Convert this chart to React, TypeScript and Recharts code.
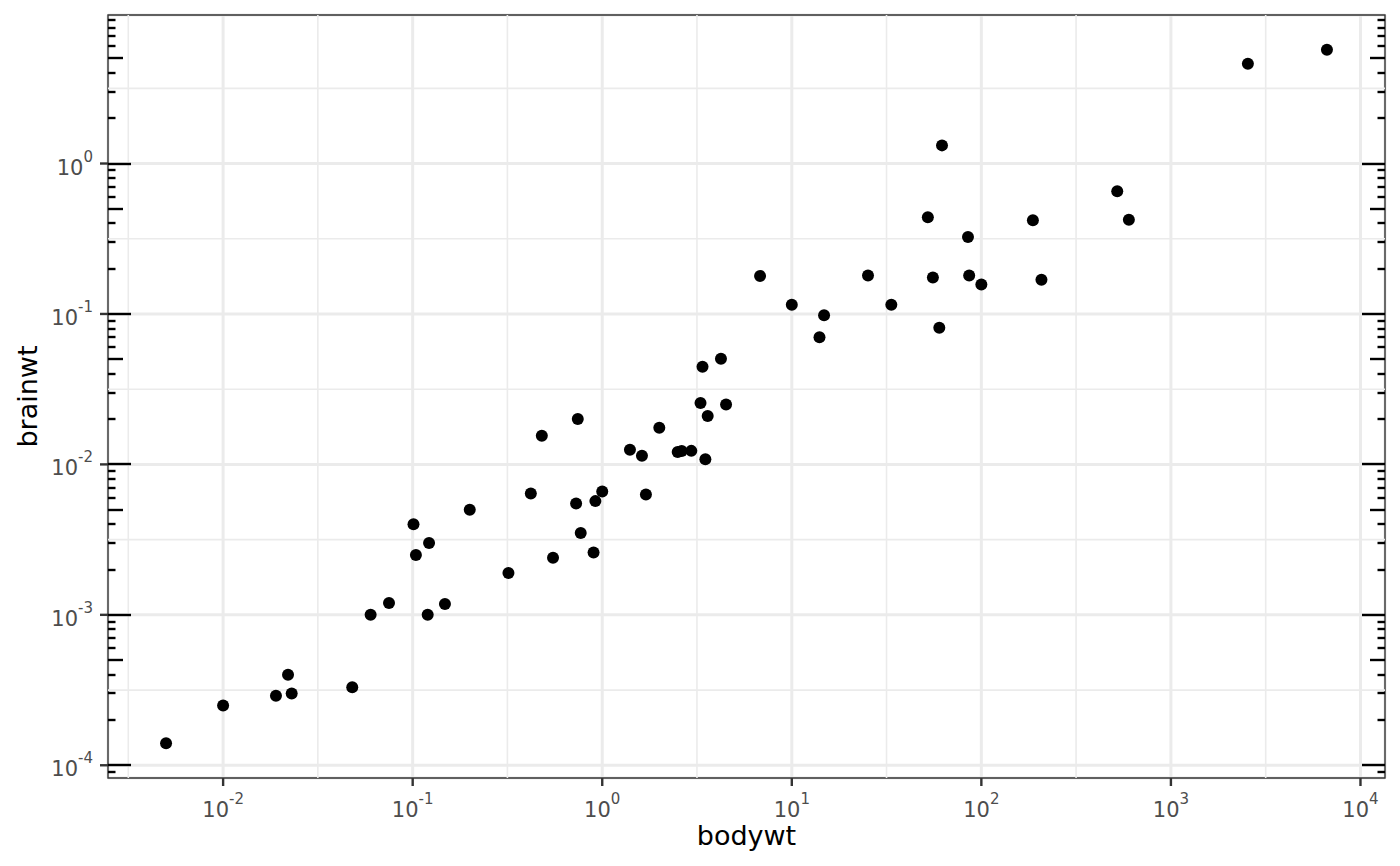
import React from 'react';
import { ScatterChart, Scatter, XAxis, YAxis, CartesianGrid, ReferenceLine, ReferenceArea } from 'recharts';

// msleep: body weight vs brain weight (kg), both on log10 scales
const animals = [
  'Owl monkey', 'Greater short-tailed shrew', 'Cow', 'Dog', 'Roe deer', 'Goat', 'Guinea pig',
  'Chinchilla', 'Star-nosed mole', 'African giant pouched rat', 'Lesser short-tailed shrew',
  'Long-nosed armadillo', 'Tree hyrax', 'North American Opossum', 'Asian elephant', 'Big brown bat',
  'Horse', 'Donkey', 'European hedgehog', 'Patas monkey', 'Domestic cat', 'Galago', 'Gray seal',
  'Gray hyrax', 'Human', 'African elephant', 'Macaque', 'Golden hamster', 'House mouse',
  'Little brown bat', 'Slow loris', 'Rabbit', 'Sheep', 'Chimpanzee', 'Jaguar', 'Baboon',
  'Desert hedgehog', 'Phalanger', 'Giant armadillo', 'Rock hyrax', 'Laboratory rat',
  'Squirrel monkey', 'Eastern american mole', 'Cotton rat', 'Mole rat', 'Arctic ground squirrel',
  'Thirteen-lined ground squirrel', 'Musk shrew', 'Pig', 'Short-nosed echidna', 'Brazilian tapir',
  'Tenrec', 'Tree shrew', 'Genet', 'Arctic fox', 'Red fox',
];
const bodywt = [
  0.48, 0.019, 600, 14, 14.8, 33.5, 0.728,
  0.42, 0.06, 1, 0.005,
  3.5, 2.95, 1.7, 2547, 0.023,
  521, 187, 0.77, 10, 3.3, 0.2, 85,
  2.625, 62, 6654, 6.8, 0.12, 0.022,
  0.01, 1.4, 2.5, 55.5, 52.2, 100, 25.235,
  0.55, 1.62, 60, 3.6, 0.32,
  0.743, 0.075, 0.148, 0.122, 0.92,
  0.101, 0.048, 86.25, 4.5, 207.501,
  0.9, 0.104, 2, 3.38, 4.23,
];
const brainwt = [
  0.0155, 0.00029, 0.423, 0.07, 0.0982, 0.115, 0.0055,
  0.0064, 0.001, 0.0066, 0.00014,
  0.0108, 0.0123, 0.0063, 4.603, 0.0003,
  0.655, 0.419, 0.0035, 0.115, 0.0256, 0.005, 0.325,
  0.01227, 1.32, 5.712, 0.179, 0.001, 0.0004,
  0.00025, 0.0125, 0.0121, 0.175, 0.44, 0.157, 0.18,
  0.0024, 0.0114, 0.081, 0.021, 0.0019,
  0.02, 0.0012, 0.00118, 0.003, 0.0057,
  0.004, 0.00033, 0.18, 0.025, 0.169,
  0.0026, 0.0025, 0.0175, 0.0445, 0.0504,
];

const xBreaks = [0.01, 0.1, 1, 10, 100, 1000, 10000];
const yBreaks = [0.0001, 0.001, 0.01, 0.1, 1];
const xMinorBreaks = [0.00316, 0.0316, 0.316, 3.16, 31.6, 316, 3162];
const yMinorBreaks = [0.000316, 0.00316, 0.0316, 0.316, 3.16];
const xDomain = [0.00247, 13470];
const yDomain = [0.0000823, 9.71];
const logTickDecades = [-5, -4, -3, -2, -1, 0];
const logTickSteps = [1, 2, 3, 4, 5, 6, 7, 8, 9];

const data = animals.map((name, i) => ({ name, bodywt: bodywt[i], brainwt: brainwt[i] }));

const yLogTicks = logTickDecades
  .flatMap((d) => logTickSteps.map((s) => ({ step: s, value: s * Math.pow(10, d) })))
  .filter((t) => t.value >= yDomain[0] && t.value <= yDomain[1]);

const FONT = '"DejaVu Sans", Verdana, sans-serif';
const GRID = '#ebebeb';

const exponent = (v: number) => Math.round(Math.log10(v));

function XTick(props: any) {
  const { x, y, payload } = props;
  return (
    <text x={x} y={y + 29} textAnchor="middle" fill="#4d4d4d" fontSize={21} fontFamily={FONT}>
      10<tspan dy={-13} fontSize={15}>{exponent(payload.value)}</tspan>
    </text>
  );
}

function YTick(props: any) {
  const { x, y, payload } = props;
  return (
    <text x={x - 5} y={y + 11} textAnchor="end" fill="#4d4d4d" fontSize={21} fontFamily={FONT}>
      10<tspan dy={-13} fontSize={15}>{exponent(payload.value)}</tspan>
    </text>
  );
}

function XTitle(props: any) {
  const vb = props.viewBox || { x: 108, y: 778, width: 1277 };
  return (
    <text x={vb.x + vb.width / 2} y={vb.y + 67} textAnchor="middle" fill="#000" fontSize={27} fontFamily={FONT}>
      bodywt
    </text>
  );
}

function YTitle(props: any) {
  const vb = props.viewBox || { x: 0, y: 15, height: 763 };
  const cx = 37;
  const cy = vb.y + vb.height / 2;
  return (
    <text x={cx} y={cy} transform={`rotate(-90 ${cx} ${cy})`} textAnchor="middle" fill="#000" fontSize={27} fontFamily={FONT}>
      brainwt
    </text>
  );
}

const logTickShape = (len: number) => (p: any) => {
  const left = Math.min(p.x1, p.x2);
  const right = Math.max(p.x1, p.x2);
  const y = Math.round(p.y1);
  return (
    <g>
      <line x1={left} x2={left + len} y1={y} y2={y} stroke="#000" strokeWidth={2.4} />
      <line x1={right - len} x2={right} y1={y} y2={y} stroke="#000" strokeWidth={2.4} />
    </g>
  );
};

const Dot = (p: any) => <circle cx={p.cx} cy={p.cy} r={6} fill="#000" />;

export default function App() {
  return (
    <div style={{ position: 'absolute', left: 0, top: 0, background: '#fff' }}>
      <ScatterChart width={1400} height={866} margin={{ top: 15, right: 15, bottom: 0, left: 0 }}>
        <CartesianGrid stroke={GRID} strokeWidth={3} />
        {xMinorBreaks.map((v) => (
          <ReferenceLine key={`xm-${v}`} x={v} stroke={GRID} strokeWidth={1.6} />
        ))}
        {yMinorBreaks.map((v) => (
          <ReferenceLine key={`ym-${v}`} y={v} stroke={GRID} strokeWidth={1.6} />
        ))}
        <XAxis
          dataKey="bodywt"
          type="number"
          scale="log"
          domain={xDomain}
          allowDataOverflow
          ticks={xBreaks}
          interval={0}
          height={88}
          axisLine={false}
          tickSize={8}
          tickLine={{ stroke: '#333', strokeWidth: 2.4 }}
          tick={<XTick />}
          label={<XTitle />}
        />
        <YAxis
          dataKey="brainwt"
          type="number"
          scale="log"
          domain={yDomain}
          allowDataOverflow
          ticks={yBreaks}
          interval={0}
          width={108}
          axisLine={false}
          tickSize={8}
          tickLine={{ stroke: '#333', strokeWidth: 2.4 }}
          tick={<YTick />}
          label={<YTitle />}
        />
        <Scatter data={data} shape={Dot} isAnimationActive={false} />
        {yLogTicks.map((t) => (
          <ReferenceLine
            key={`lt-${t.value}`}
            y={t.value}
            shape={logTickShape(t.step === 1 ? 23 : t.step === 5 ? 15 : 7.5)}
          />
        ))}
        <ReferenceArea
          x1={xDomain[0]}
          x2={xDomain[1]}
          y1={yDomain[0]}
          y2={yDomain[1]}
          fill="none"
          fillOpacity={0}
          stroke="#333"
          strokeWidth={1.4}
        />
      </ScatterChart>
    </div>
  );
}
